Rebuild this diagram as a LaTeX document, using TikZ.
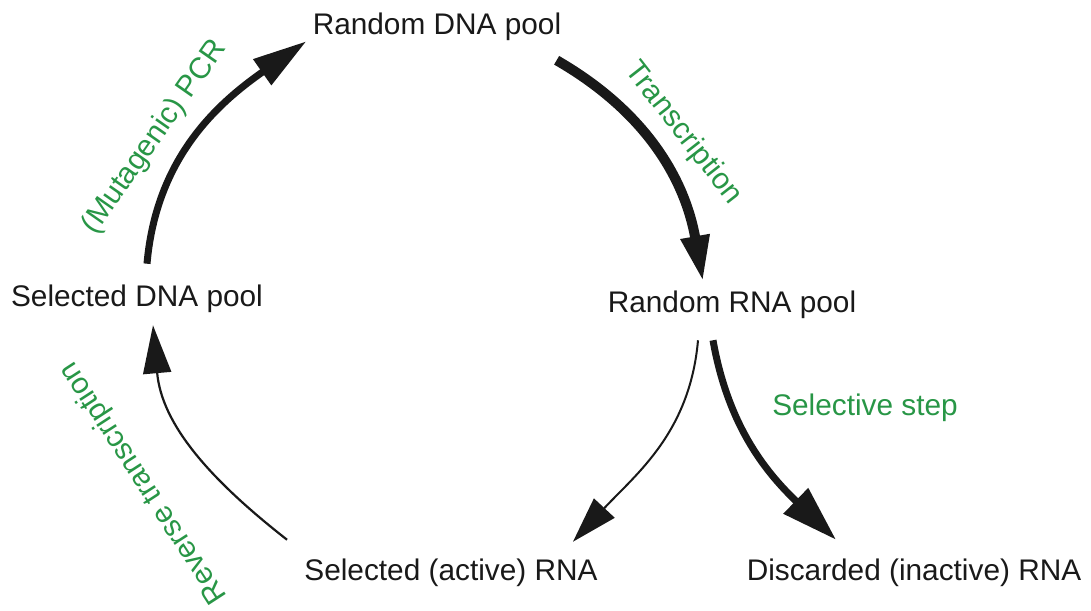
\documentclass[tikz,border=0pt]{standalone}
\usepackage{tikz}
\usepackage{xcolor}
\usepackage{fontspec}
\setmainfont{Liberation Sans}
\usetikzlibrary{arrows.meta}
\definecolor{labgreen}{RGB}{40,150,70}

\begin{document}
\begin{tikzpicture}[x=0.5pt,y=0.5pt]
      \useasboundingbox(0,0) rectangle (1091,610);
      \tikzset{V/.style = {inner sep=0pt, text=black!90, font=\fontsize{14.9}{18}\selectfont}}
      \tikzset{L/.style = {inner sep=0pt, text=labgreen, font=\fontsize{14.9}{18}\selectfont}}
      \tikzset{E/.style = {draw=black!90}}
      \node[V](rdna) at (437,583) {Random DNA pool};
      \node[V](rrna) at (732,305) {Random RNA pool};
      \node[V](sdna) at (137,311) {Selected DNA pool};
      \node[V](srna) at (451,37) {Selected (active) RNA};
      \node[V](drna) at (914,37) {Discarded (inactive) RNA};
      \node[L,rotate=55](pcr) at (155,473) {(Mutagenic) PCR};
      \node[L,rotate=-52](tra) at (683,477) {Transcription};
      \node[L](sel) at (865,202) {Selective step};
      \node[L,rotate=123](rev) at (144,127) {Reverse transcription};
      \draw[E,line width=3.5pt,-{Triangle[length=27pt,width=15pt]}]
        ([xshift=5pt,yshift=10.5pt]sdna.north) to[out=85,in=215] ([xshift=-3pt]rdna.south west);
      \draw[E,line width=5pt,-{Triangle[length=23pt,width=13.5pt]}]
        ([xshift=-2.5pt,yshift=-9.5pt]rdna.south east) to[out=-30,in=100] ([xshift=-14.5pt,yshift=4.5pt]rrna.north);
      \draw[E,line width=1pt,-{Triangle[length=23pt,width=14pt]}]
        ([xshift=-17pt,yshift=-10.5pt]rrna.south) to[out=-95,in=47] ([xshift=-12.5pt,yshift=8.5pt]srna.north east);
      \draw[E,line width=3.5pt,-{Triangle[length=28pt,width=17pt]}]
        ([xshift=-9.5pt,yshift=-10.5pt]rrna.south) to[out=-80,in=136] ([xshift=-39pt,yshift=9.5pt]drna.north);
      \draw[E,line width=1.1pt,-{Triangle[length=24pt,width=14pt]}]
        ([xshift=-8.5pt,yshift=9.5pt]srna.north west) to[out=142,in=-85] ([xshift=8pt,yshift=-6pt]sdna.south);
\end{tikzpicture}
\end{document}
